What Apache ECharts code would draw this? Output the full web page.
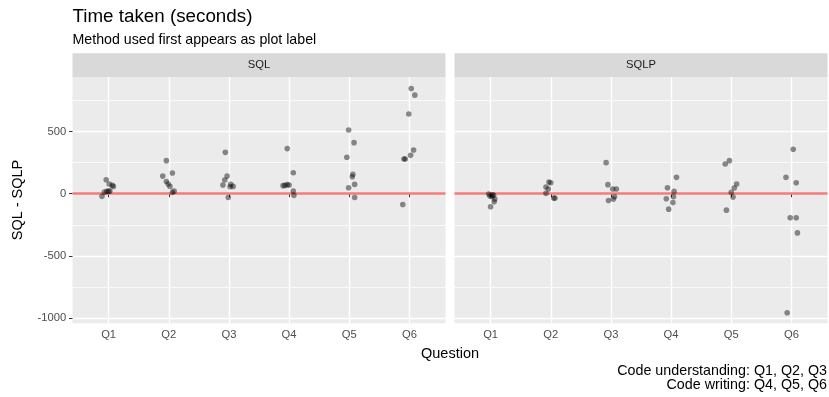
<!DOCTYPE html>
<html>
<head>
<meta charset="utf-8">
<script src="https://cdn.jsdelivr.net/npm/echarts@6/dist/echarts.min.js"></script>
<style>html,body{margin:0;padding:0;background:#fff}#c{width:829px;height:397px}</style>
</head>
<body>
<div id="c"></div>
<script>
// ---- data ----
const questions = ['Q1', 'Q2', 'Q3', 'Q4', 'Q5', 'Q6'];
const panels = ['SQL', 'SQLP'];
const yTicks = [-1000, -500, 0, 500];
const yMinorBreaks = [-750, -250, 250, 750];

// SQL panel: value per participant, per question
const sqlY = [
  [-21, 13, 19, 21, 21, 113, 78, 67, 59],
  [266, 142, 167, 99, 78, 59, 11, 21],
  [333, 142, 110, 70, 75, 56, 59, -30],
  [363, 169, 65, 67, 73, 70, 22, -13],
  [513, 411, 293, 156, 137, 48, 75, -30],
  [847, 793, 642, 352, 309, 280, 280, -86]
];
// horizontal jitter (question units)
const sqlJitter = [
  [-0.11, -0.07, -0.03, 0.00, 0.02, -0.04, 0.01, 0.06, 0.08],
  [-0.04, -0.10, 0.06, -0.04, -0.01, 0.02, 0.06, 0.09],
  [-0.06, -0.03, -0.07, -0.10, 0.03, 0.02, 0.07, -0.01],
  [-0.03, 0.07, -0.10, -0.07, -0.03, 0.00, 0.07, 0.08],
  [-0.01, 0.08, -0.04, 0.06, 0.05, -0.01, 0.09, 0.09],
  [0.03, 0.09, -0.01, 0.07, 0.02, -0.09, -0.07, -0.11]
];
// SQLP panel
const sqlpY = [
  [-3, -19, -24, -13, -43, -65, -105, -8],
  [94, 89, 54, 38, 3, -35, -35],
  [250, 73, 38, 38, -24, -43, -54],
  [132, 48, 19, -24, -40, -70, -124],
  [266, 239, 78, 46, 11, -27, -132],
  [358, 132, 89, -194, -194, -315, -957]
];
const sqlpJitter = [
  [-0.03, -0.01, 0.02, 0.05, 0.07, 0.06, 0.00, 0.03],
  [-0.03, 0.00, -0.08, -0.04, -0.08, 0.05, 0.07],
  [-0.08, -0.05, 0.03, 0.09, 0.06, 0.04, -0.04],
  [0.09, -0.06, 0.05, 0.04, -0.08, 0.03, -0.04],
  [-0.03, -0.10, 0.09, 0.05, 0.00, 0.03, -0.08],
  [0.03, -0.09, 0.08, -0.02, 0.08, 0.10, -0.07]
];
const refLine = 0;

// ---- build ----
function points(ys, js) {
  const out = [];
  ys.forEach((arr, qi) => arr.forEach((v, k) => out.push([qi + 1 + js[qi][k], v])));
  return out;
}

const FONT = "'Liberation Sans', Arial, Helvetica, sans-serif";
const G = { l1: 72.5, l2: 454.5, w: 373, top: 77, h: 246.3, stripTop: 53.3, stripH: 23.7 };
const yMin = -1042, yMax = 939;
const xMin = 0.4, xMax = 6.6;

function xAxis(i) {
  return {
    type: 'value', gridIndex: i, min: xMin, max: xMax,
    minInterval: 1, maxInterval: 1,
    axisLine: { show: false },
    axisTick: { show: true, length: 3.5, lineStyle: { color: '#333333', width: 1 },
      customValues: questions.map((q, k) => k + 1) },
    axisLabel: { show: true, margin: 6.3, color: '#4D4D4D', fontSize: 11.2, fontFamily: FONT,
      customValues: questions.map((q, k) => k + 1),
      formatter: v => questions[Math.round(v) - 1] || '' },
    splitLine: { show: true, lineStyle: { color: '#FFFFFF', width: 1.4 } },
    minorSplitLine: { show: false }
  };
}
function yAxis(i, labels) {
  return {
    type: 'value', gridIndex: i, min: yMin, max: yMax,
    minInterval: 500, maxInterval: 500,
    axisLine: { show: false },
    axisTick: { show: labels, length: 3.5, lineStyle: { color: '#333333', width: 1 },
      customValues: yTicks },
    axisLabel: { show: labels, margin: 6.3, color: '#4D4D4D', fontSize: 11.2, fontFamily: FONT,
      customValues: yTicks, formatter: v => String(v) },
    splitLine: { show: true, lineStyle: { color: '#FFFFFF', width: 1.4 } },
    minorSplitLine: { show: false }
  };
}

function pointSeries(i, data) {
  return {
    type: 'scatter', xAxisIndex: i, yAxisIndex: i, data: data, z: 4,
    symbolSize: 5.6,
    itemStyle: { color: 'rgba(0,0,0,0.55)', borderWidth: 0 },
    silent: true
  };
}
function minorSeries(i) {
  return {
    type: 'scatter', xAxisIndex: i, yAxisIndex: i, data: [], z: 2,
    markLine: { silent: true, z: 2, symbol: ['none', 'none'], label: { show: false },
      lineStyle: { color: '#FAFAFA', width: 1, type: 'solid' },
      data: yMinorBreaks.map(v => ({ yAxis: v })) }
  };
}
function lineSeries(i) {
  return {
    type: 'scatter', xAxisIndex: i, yAxisIndex: i, data: [], z: 3,
    markLine: { silent: true, z: 3, symbol: ['none', 'none'], label: { show: false },
      lineStyle: { color: '#F47B78', width: 2.6, type: 'solid' },
      data: [{ yAxis: refLine }] }
  };
}

const strip = (x, t) => ({
  type: 'group',
  children: [
    { type: 'rect', shape: { x: x, y: G.stripTop, width: G.w, height: G.stripH }, style: { fill: '#D9D9D9' } },
    { type: 'text', x: x + G.w / 2, y: G.stripTop + G.stripH / 2,
      style: { text: t, fill: '#1A1A1A', font: '11.2px ' + FONT, align: 'center', verticalAlign: 'middle' } }
  ]
});

const chart = echarts.init(document.getElementById('c'), null, { renderer: 'canvas' });
chart.setOption({
  animation: false,
  backgroundColor: '#FFFFFF',
  grid: [
    { left: G.l1, top: G.top, width: G.w, height: G.h, show: true, backgroundColor: '#EBEBEB', borderWidth: 0 },
    { left: G.l2, top: G.top, width: G.w, height: G.h, show: true, backgroundColor: '#EBEBEB', borderWidth: 0 }
  ],
  xAxis: [xAxis(0), xAxis(1)],
  yAxis: [yAxis(0, true), yAxis(1, false)],
  series: [
    minorSeries(0), minorSeries(1),
    lineSeries(0), lineSeries(1),
    pointSeries(0, points(sqlY, sqlJitter)),
    pointSeries(1, points(sqlpY, sqlpJitter))
  ],
  graphic: [
    { type: 'text', x: 72.5, y: 17, style: { text: 'Time taken (seconds)', fill: '#000', font: '18.8px ' + FONT, verticalAlign: 'middle' } },
    { type: 'text', x: 72.5, y: 40, style: { text: 'Method used first appears as plot label', fill: '#000', font: '14.2px ' + FONT, verticalAlign: 'middle' } },
    strip(G.l1, panels[0]),
    strip(G.l2, panels[1]),
    { type: 'text', x: 450, y: 354, style: { text: 'Question', fill: '#000', font: '14.5px ' + FONT, align: 'center', verticalAlign: 'middle' } },
    { type: 'text', x: 18, y: 200, rotation: Math.PI / 2,
      style: { text: 'SQL - SQLP', fill: '#000', font: '14.5px ' + FONT, align: 'center', verticalAlign: 'middle' } },
    { type: 'text', x: 827, y: 371, style: { text: 'Code understanding: Q1, Q2, Q3', fill: '#000', font: '14.3px ' + FONT, align: 'right', verticalAlign: 'middle' } },
    { type: 'text', x: 827, y: 385, style: { text: 'Code writing: Q4, Q5, Q6', fill: '#000', font: '14.3px ' + FONT, align: 'right', verticalAlign: 'middle' } }
  ]
});
</script>
</body>
</html>
